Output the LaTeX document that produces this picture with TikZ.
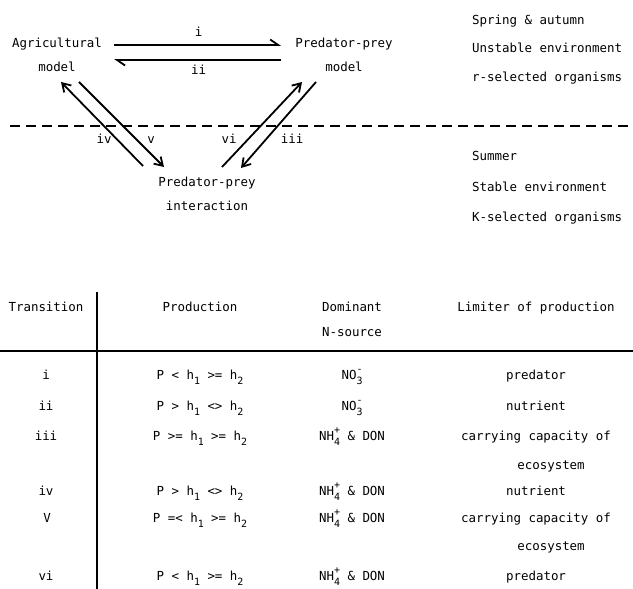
\documentclass[tikz,border=0pt]{standalone}
\usepackage{fontspec}
\setmonofont{DejaVu Sans Mono}
\usepackage{tikz}
\usetikzlibrary{arrows.meta, positioning}
\newcommand{\hsub}[1]{\raisebox{-0.8ex}{\fontsize{10}{10}\selectfont #1}}
\newcommand{\ion}[2]{\rlap{\raisebox{1.0ex}{\fontsize{10}{10}\selectfont #2}}\raisebox{-0.8ex}{\fontsize{10}{10}\selectfont #1}}
\tikzset{
  txt/.style={font=\fontsize{12.5}{14}\selectfont\ttfamily, inner sep=0pt,
    text height=9bp, text depth=3bp},
  lft/.style={txt, anchor=west},
  arr/.style={-{Straight Barb[length=8bp, width=10bp]}, line width=1.8bp},
  harp/.style={-{Straight Barb[harpoon, length=8bp, width=11bp]}, line width=1.8bp},
  sep/.style={line width=1.2bp, dash pattern=on 10bp off 6bp},
  rule/.style={line width=2bp}
}

\begin{document}
\begin{tikzpicture}[x=1bp, y=-1bp, node distance=11bp]
  \useasboundingbox (0,0) rectangle (633,589);

  % Models
  \node[txt] (agri) at (57,45) {Agricultural};
  \node[txt, below=of agri] (agrim) {model};
  \node[txt] (pred) at (344,45) {Predator-prey};
  \node[txt, below=of pred] (predm) {model};
  \node[txt] (inter) at (207,184) {Predator-prey};
  \node[txt, below=of inter] (interm) {interaction};

  \draw[harp, shorten <=12bp, shorten >=14bp] (agri.east) -- (pred.west)
    node[txt, midway, above=5bp] (ti) {i};
  \draw[harp, shorten <=14bp, shorten >=12bp] ([yshift=-15bp]pred.west) -- ([yshift=-15bp]agri.east)
    node[txt, midway, below=5bp] (tii) {ii};

  % Diagonal transitions
  \coordinate (iva) at (143,166); \coordinate (ivb) at (61,82);
  \coordinate (va)  at (79,82);   \coordinate (vb)  at (164,167);
  \coordinate (via) at (222,167); \coordinate (vib) at (302,82);
  \coordinate (iiia) at (316,82); \coordinate (iiib) at (241,168);
  \draw[arr] (iva) -- (ivb); \draw[arr] (va) -- (vb);
  \draw[arr] (via) -- (vib); \draw[arr] (iiia) -- (iiib);
  \node[txt] (tiv) at (104,141) {iv};
  \node[txt] (tv) at (151,141) {v};
  \node[txt] (tvi) at (229,141) {vi};
  \node[txt] (tiii) at (292,141) {iii};

  % Seasons
  \coordinate (sepl) at (10,126); \coordinate (sepr) at (633,126);
  \draw[sep] (sepl) -- (sepr);
  \node[lft] (s1) at (472,22) {Spring \& autumn};
  \node[lft] (s2) at (472,50) {Unstable environment};
  \node[lft] (s3) at (472,79) {r-selected organisms};
  \node[lft] (s4) at (472,158) {Summer};
  \node[lft] (s5) at (472,188) {Stable environment};
  \node[lft] (s6) at (472,218) {K-selected organisms};

  % Table head
  \node[txt] (hT) at (46,308) {Transition};
  \node[txt] (hP) at (200,308) {Production};
  \node[txt] (hD) at (352,308) {Dominant};
  \node[txt] (hN) at (352,333) {N-source};
  \node[txt] (hL) at (536,308) {Limiter of production};
  \coordinate (vt) at (97,292); \coordinate (vb2) at (97,589);
  \coordinate (hl) at (0,351); \coordinate (hr) at (633,351);
  \draw[rule] (vt) -- (vb2);
  \draw[rule] (hl) -- (hr);

  % Table rows
  \node[txt] (r1t) at (46,376) {i};
  \node[txt] (r1p) at (200,376) {P < h\hsub{1} >= h\hsub{2}};
  \node[txt] (r1d) at (352,376) {NO\ion{3}{-}};
  \node[txt] (r1l) at (536,376) {predator};

  \node[txt] (r2t) at (46,407) {ii};
  \node[txt] (r2p) at (200,407) {P > h\hsub{1} <> h\hsub{2}};
  \node[txt] (r2d) at (352,407) {NO\ion{3}{-}};
  \node[txt] (r2l) at (536,407) {nutrient};

  \node[txt] (r3t) at (46,437) {iii};
  \node[txt] (r3p) at (200,437) {P >= h\hsub{1} >= h\hsub{2}};
  \node[txt] (r3d) at (352,437) {NH\ion{4}{+} \& DON};
  \node[txt] (r3l) at (536,437) {carrying capacity of};
  \node[txt] (r3e) at (551,466) {ecosystem};

  \node[txt] (r4t) at (46,492) {iv};
  \node[txt] (r4p) at (200,492) {P > h\hsub{1} <> h\hsub{2}};
  \node[txt] (r4d) at (352,492) {NH\ion{4}{+} \& DON};
  \node[txt] (r4l) at (536,492) {nutrient};

  \node[txt] (r5t) at (47,519) {V};
  \node[txt] (r5p) at (200,519) {P =< h\hsub{1} >= h\hsub{2}};
  \node[txt] (r5d) at (352,519) {NH\ion{4}{+} \& DON};
  \node[txt] (r5l) at (536,519) {carrying capacity of};
  \node[txt] (r5e) at (551,547) {ecosystem};

  \node[txt] (r6t) at (46,577) {vi};
  \node[txt] (r6p) at (200,577) {P < h\hsub{1} >= h\hsub{2}};
  \node[txt] (r6d) at (352,577) {NH\ion{4}{+} \& DON};
  \node[txt] (r6l) at (536,577) {predator};

\end{tikzpicture}
\end{document}
